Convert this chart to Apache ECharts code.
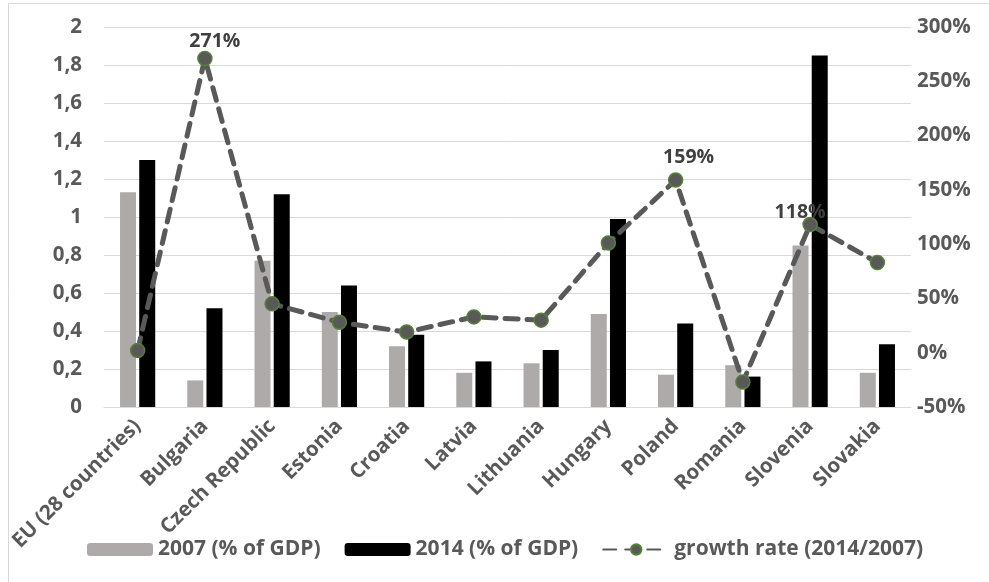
<!DOCTYPE html>
<html>
<head>
<meta charset="utf-8">
<script src="https://cdn.jsdelivr.net/npm/echarts@6/dist/echarts.min.js"></script>
<style>
html,body{margin:0;padding:0;background:#fff;}
#chart{width:989px;height:582px;}
</style>
</head>
<body>
<div id="chart"></div>
<script>
var categories = ['EU (28 countries)','Bulgaria','Czech Republic','Estonia','Croatia','Latvia','Lithuania','Hungary','Poland','Romania','Slovenia','Slovakia'];
var values2007 = [1.13,0.14,0.77,0.50,0.32,0.18,0.23,0.49,0.17,0.22,0.85,0.18];
var values2014 = [1.30,0.52,1.12,0.64,0.38,0.24,0.30,0.99,0.44,0.16,1.85,0.33];
var growthRate = [0.02,2.71,0.45,0.28,0.19,0.33,0.30,1.01,1.59,-0.27,1.18,0.83];
var labelledPoints = ['Bulgaria','Poland','Slovenia'];
var leftTicks = {min:0,max:2,interval:0.2};
var rightTicks = {min:-0.5,max:3,interval:0.5};

// label placement tweaks (style only)
var labelOffsetStyle = {'Bulgaria':[10,6],'Poland':[13,0],'Slovenia':[-10,11]};

var FONT = '"Open Sans", sans-serif';
var txt = '#595959';
var chart = echarts.init(document.getElementById('chart'));
chart.setOption({
  animation:false,
  graphic:[{type:'rect',shape:{x:8.5,y:3.5,width:1000,height:600},style:{fill:'none',stroke:'#d9d9d9',lineWidth:1},z:-1}],
  grid:{left:104,right:78,top:27,bottom:175},
  legend:{
    left:82, top:534, itemGap:24, itemWidth:66, itemHeight:13,
    textStyle:{color:txt,fontFamily:FONT,fontWeight:'bold',fontSize:21},
    data:['2007 (% of GDP)','2014 (% of GDP)','growth rate (2014/2007)']
  },
  xAxis:{
    type:'category', data:categories,
    axisLine:{lineStyle:{color:'#d9d9d9',width:1}},
    axisTick:{show:false},
    axisLabel:{rotate:45,interval:0,color:txt,fontFamily:FONT,fontWeight:'bold',fontSize:20.5,margin:16}
  },
  yAxis:[
    {type:'value',min:leftTicks.min,max:leftTicks.max,interval:leftTicks.interval,
     axisLine:{show:false},axisTick:{show:false},
     splitLine:{lineStyle:{color:'#d9d9d9',width:1}},
     axisLabel:{color:txt,fontFamily:FONT,fontWeight:'bold',fontSize:20.5,margin:22,
       formatter:function(v){return (Math.round(v*10)/10).toString().replace('.',',');}}},
    {type:'value',min:rightTicks.min,max:rightTicks.max,interval:rightTicks.interval,
     axisLine:{show:false},axisTick:{show:false},splitLine:{show:false},
     axisLabel:{color:txt,fontFamily:FONT,fontWeight:'bold',fontSize:20.5,margin:6,
       formatter:function(v){return Math.round(v*100)+'%';}}}
  ],
  series:[
    {name:'2007 (% of GDP)',type:'bar',data:values2007,barWidth:16,barGap:'20%',
     itemStyle:{color:'#aeaaaa'}},
    {name:'2014 (% of GDP)',type:'bar',data:values2014,barWidth:16,
     itemStyle:{color:'#000000'}},
    {name:'growth rate (2014/2007)',type:'line',yAxisIndex:1,
     data:growthRate.map(function(v,i){
       var show = labelledPoints.indexOf(categories[i])>=0;
       return {value:v,label:{show:show,offset:labelOffsetStyle[categories[i]]||[0,0]}};
     }),
     symbol:'circle',symbolSize:14,
     lineStyle:{color:'#595959',width:5,type:[13,9],cap:'round'},
     itemStyle:{color:'#595959',borderColor:'#548235',borderWidth:1.5},
     label:{position:'top',distance:5,color:'#404040',fontFamily:FONT,fontWeight:'bold',fontSize:19.5,
       formatter:function(p){return Math.round(p.value*100)+'%';}},
     z:5}
  ]
});
</script>
</body>
</html>
